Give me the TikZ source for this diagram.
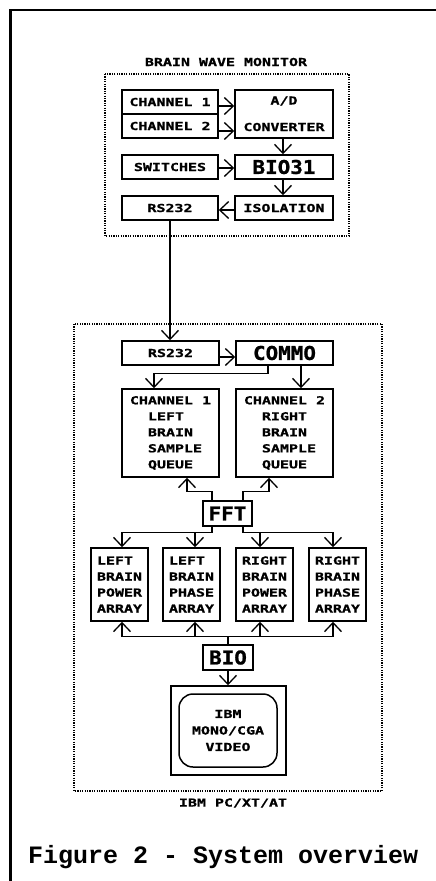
\documentclass[tikz,border=0pt]{standalone}
\usepackage{fontspec}
\usetikzlibrary{arrows.meta}
\newfontfamily\smfont[FakeStretch=1.36,FakeBold=1]{DejaVu Sans Mono}
\newfontfamily\lgfont[FakeStretch=1.1,FakeBold=1]{DejaVu Sans Mono}
\newfontfamily\capfont{Liberation Mono}
\begin{document}
\begin{tikzpicture}[x=1pt,y=-1pt,
  box/.style={draw, line width=1.5pt, inner sep=0pt, align=left,
    font=\smfont\bfseries\fontsize{11}{16}\selectfont},
  bigbox/.style={draw, line width=1.5pt, inner sep=0pt,
    font=\lgfont\bfseries\fontsize{19}{20}\selectfont},
  lbl/.style={inner sep=0pt, font=\smfont\bfseries\fontsize{11}{16}\selectfont},
  conn/.style={line width=1.3pt},
  arr/.style={conn, -{Straight Barb[length=9pt,width=17pt]}},
  dotbox/.style={line width=1.3pt, dash pattern=on 1.2pt off 1.2pt}]
\useasboundingbox (0,0) rectangle (436,881);
% outer frame (top and left)
\draw[line width=2pt] (436,10) -- (11,10);
\draw[line width=3pt] (10.5,9) -- (10.5,881);

% ---- Brain wave monitor ----
\node[lbl] (t1) at (226,62) {BRAIN WAVE MONITOR};
\draw[dotbox] (105,74) rectangle (349,236);
\node[box, minimum width=96pt, minimum height=24pt] (ch1) at (170,102) {CHANNEL 1};
\node[box, minimum width=96pt, minimum height=24pt] (ch2) at (170,126) {CHANNEL 2};
\node[box, minimum width=98pt, minimum height=48pt] (ad) at (284,114) {};
\node[lbl] (adt1) at (284,101) {A/D};
\node[lbl] (adt2) at (284,127) {CONVERTER};
\node[box, minimum width=96pt, minimum height=24pt] (sw) at (170,167) {SWITCHES};
\node[bigbox, minimum width=98pt, minimum height=24pt] (bio31) at (284,167) {BIO31};
\node[box, minimum width=96pt, minimum height=24pt] (rs1) at (170,208) {RS232};
\node[box, minimum width=98pt, minimum height=24pt] (iso) at (284,208) {ISOLATION};

\draw[arr] ([yshift=-4pt]ch1.east) -- ([yshift=-4pt]ch1.east -| ad.west);
\draw[arr] ([yshift=-5pt]ch2.east) -- ([yshift=-5pt]ch2.east -| ad.west);
\draw[arr] ([xshift=-1pt]ad.south) -- ([xshift=-1pt]bio31.north);
\draw[arr] ([yshift=-1pt]sw.east) -- ([yshift=-1pt]sw.east -| bio31.west);
\draw[arr] ([xshift=-1pt]bio31.south) -- ([xshift=-1pt]iso.north);
\draw[arr] ([yshift=-2pt]iso.west) -- ([yshift=-2pt]iso.west -| rs1.east);

% ---- IBM PC ----
\draw[dotbox] (74,324) rectangle (382,791);
\node[lbl] (t2) at (233,803) {IBM PC/XT/AT};
\node[box, minimum width=97pt, minimum height=24pt] (rs2) at (170.5,353) {RS232};
\node[bigbox, minimum width=97pt, minimum height=24pt] (commo) at (284.5,353) {COMMO};
\draw[arr] (rs1.south) -- (rs1.south |- rs2.north);
\draw[arr] ([yshift=-4pt]rs2.east) -- ([yshift=-4pt]rs2.east -| commo.west);

\node[box, minimum width=97pt, minimum height=88pt] (q1) at (170.5,433)
  {CHANNEL 1\\\hphantom{XX}LEFT\\\hphantom{XX}BRAIN\\\hphantom{XX}SAMPLE\\\hphantom{XX}QUEUE};
\node[box, minimum width=97pt, minimum height=88pt] (q2) at (284.5,433)
  {CHANNEL 2\\\hphantom{XX}RIGHT\\\hphantom{XX}BRAIN\\\hphantom{XX}SAMPLE\\\hphantom{XX}QUEUE};
\draw[arr] ([xshift=-16.5pt]commo.south) -- ++(0,8) -| ([xshift=-16.5pt]q1.north);
\draw[arr] ([xshift=16.5pt]commo.south) -- ([xshift=16.5pt]q2.north);

\node[bigbox, minimum width=49pt, minimum height=25pt] (fft) at (227.5,513.5) {FFT};
\draw[arr] ([xshift=-15.5pt]fft.north) -- ++(0,-9) -| ([xshift=16.5pt]q1.south);
\draw[arr] ([xshift=15.5pt]fft.north) -- ++(0,-9) -| ([xshift=-15.5pt]q2.south);

\node[box, minimum width=57pt, minimum height=73pt] (a1) at (119.5,584.5) {LEFT\\BRAIN\\POWER\\ARRAY};
\node[box, minimum width=57pt, minimum height=73pt] (a2) at (191.5,584.5) {LEFT\\BRAIN\\PHASE\\ARRAY};
\node[box, minimum width=57pt, minimum height=73pt] (a3) at (264.5,584.5) {RIGHT\\BRAIN\\POWER\\ARRAY};
\node[box, minimum width=57pt, minimum height=73pt] (a4) at (337.5,584.5) {RIGHT\\BRAIN\\PHASE\\ARRAY};

\draw[conn] ([xshift=-15.5pt]fft.south) -- ++(0,6) coordinate (fl);
\draw[conn] ([xshift=15.5pt]fft.south) -- ++(0,6) coordinate (fr);
\draw[arr] (fl) -| ([xshift=2.5pt]a1.north);
\draw[arr] (fl) -| ([xshift=3.5pt]a2.north);
\draw[arr] (fr) -| ([xshift=-4.5pt]a3.north);
\draw[arr] (fr) -| ([xshift=-4.5pt]a4.north);

\node[bigbox, minimum width=50pt, minimum height=25pt] (bio) at (228,657.5) {BIO};
\draw[conn] (bio.north) -- ++(0,-8) coordinate (bb);
\draw[arr] (bb) -| ([xshift=2.5pt]a1.south);
\draw[arr] (bb) -| ([xshift=3.5pt]a2.south);
\draw[arr] (bb) -| ([xshift=-4.5pt]a3.south);
\draw[arr] (bb) -| ([xshift=-4.5pt]a4.south);

\node[draw, line width=1.5pt, minimum width=115pt, minimum height=89pt, inner sep=0pt] (mon) at (228.5,730.5) {};
\node[draw, line width=1.5pt, rounded corners=14pt, minimum width=98pt, minimum height=73pt,
  inner sep=0pt, align=center, font=\smfont\bfseries\fontsize{11}{16.5}\selectfont] (scr) at (228,730.5)
  {IBM\\MONO/CGA\\VIDEO};
\draw[arr] (bio.south) -- (bio.south |- mon.north);

% caption
\node[anchor=base west, inner sep=0pt, font=\capfont\bfseries\fontsize{25}{26}\selectfont] (cap) at (28,863)
  {Figure 2 - System overview};
\end{tikzpicture}
\end{document}
